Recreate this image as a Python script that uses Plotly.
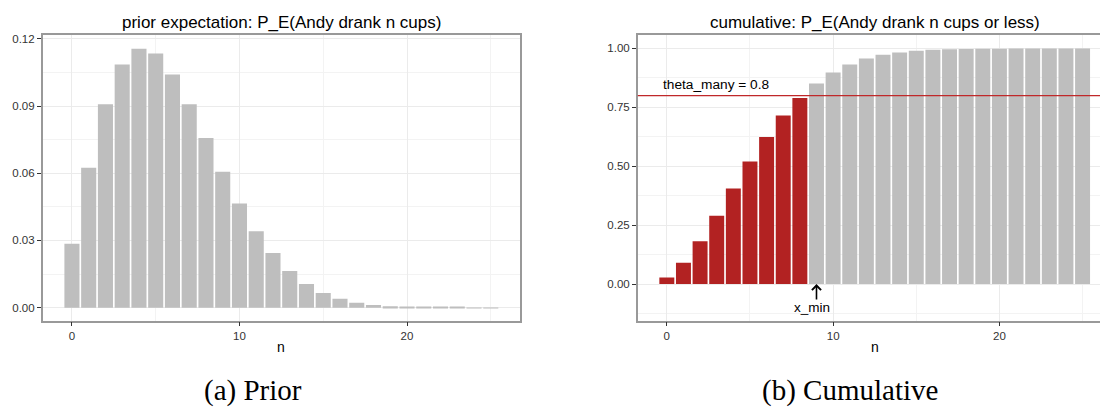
import plotly.graph_objects as go

# ---- data ----
n_values = list(range(26))
prior = [0.0285, 0.0624, 0.0908, 0.1085, 0.1156, 0.1134, 0.1041, 0.0908, 0.0757,
         0.0607, 0.0465, 0.0341, 0.0244, 0.0164, 0.0106, 0.0066, 0.0040, 0.0022,
         0.0012, 0.0006, 0.0003, 0.0002, 0.0001, 0.0001, 0.00005, 0.00003]
cumulative = [0.028, 0.091, 0.182, 0.290, 0.406, 0.520, 0.624, 0.715, 0.790, 0.851,
              0.898, 0.932, 0.957, 0.973, 0.983, 0.990, 0.994, 0.996, 0.998, 0.999,
              0.999, 1.0, 1.0, 1.0, 1.0, 1.0]
theta_many = 0.8
x_min = 9
left_title = "prior expectation: P_E(Andy drank n cups)"
right_title = "cumulative: P_E(Andy drank n cups or less)"
captions = ["(a) Prior", "(b) Cumulative"]
left_yticks = [0.00, 0.03, 0.06, 0.09, 0.12]
right_yticks = [0.00, 0.25, 0.50, 0.75, 1.00]
x_ticks = [0, 10, 20]

GREY = "#bebebe"
RED = "#b22222"
SANS = "Liberation Sans, Arial, sans-serif"
SERIF = "Liberation Serif, Times New Roman, serif"
W, H = 1100, 410
TICKFONT = dict(family=SANS, size=11.5, color="#333333")

fig = go.Figure()
fig.add_trace(go.Bar(x=n_values, y=prior, width=0.9, marker=dict(color=GREY, line=dict(width=0)),
                     xaxis="x", yaxis="y", showlegend=False, hoverinfo="x+y"))
cum_colors = [RED if n < x_min else GREY for n in n_values]
fig.add_trace(go.Bar(x=n_values, y=cumulative, width=0.9, marker=dict(color=cum_colors, line=dict(width=0)),
                     xaxis="x2", yaxis="y2", showlegend=False, hoverinfo="x+y"))

ydom = [1 - 320 / H, 1 - 32.7 / H]
common_x = dict(tickmode="array", tickvals=x_ticks, ticks="outside", ticklen=4, tickwidth=1,
                tickcolor="#333333", showgrid=True, gridcolor="#ebebeb", gridwidth=1.1,
                minor=dict(dtick=5, tick0=0, showgrid=True, gridcolor="#f3f3f3", gridwidth=0.6, ticks=""),
                zeroline=False, showline=True, linecolor="#999999", linewidth=1.5, mirror=True,
                tickfont=TICKFONT, fixedrange=True)
common_y = dict(ticks="outside", ticklen=4, tickwidth=1, tickcolor="#333333", showgrid=True,
                gridcolor="#ebebeb", gridwidth=1.1, zeroline=False, showline=True,
                linecolor="#999999", linewidth=1.5, tickformat=".2f",
                tickfont=TICKFONT, fixedrange=True)

fig.update_layout(
    width=W, height=H, margin=dict(l=0, r=0, t=0, b=0),
    paper_bgcolor="white", plot_bgcolor="white", barmode="overlay",
    font=dict(family=SANS, color="black"),
    xaxis=dict(common_x, domain=[42.7 / W, 520 / W], range=[-1.745, 26.745], anchor="y"),
    yaxis=dict(common_y, domain=ydom, range=[-0.0058, 0.1215], tickmode="array",
               tickvals=left_yticks, mirror=True, anchor="x",
               minor=dict(dtick=0.015, tick0=0, showgrid=True, gridcolor="#f3f3f3", gridwidth=0.6, ticks="")),
    xaxis2=dict(common_x, domain=[637.8 / W, 1.0], range=[-1.745, -1.745 + (W - 637.8) / 16.63], anchor="y2"),
    yaxis2=dict(common_y, domain=ydom, range=[-0.155, 1.055], tickmode="array",
                tickvals=right_yticks, mirror=False, anchor="x2",
                minor=dict(dtick=0.125, tick0=0, showgrid=True, gridcolor="#f3f3f3", gridwidth=0.6, ticks="")),
)

# threshold line
fig.add_shape(type="line", xref="x2 domain", yref="y2", x0=0, x1=1, y0=theta_many, y1=theta_many,
              line=dict(color="#c0282a", width=1.2), layer="above")

annots = []
# panel titles
annots.append(dict(text=left_title, xref="x", yref="paper", x=12.5, y=1 - 19.3 / H, showarrow=False,
                   xanchor="center", yanchor="middle", font=dict(family=SANS, size=17, color="black")))
annots.append(dict(text=right_title, xref="x2", yref="paper", x=12.5, y=1 - 19.3 / H, showarrow=False,
                   xanchor="center", yanchor="middle", font=dict(family=SANS, size=17, color="black")))
# axis titles
for xr in ["x", "x2"]:
    annots.append(dict(text="n", xref=xr, yref="paper", x=12.5, y=1 - 347 / H, showarrow=False,
                       xanchor="center", yanchor="middle", font=dict(family=SANS, size=14, color="black")))
# theta label
annots.append(dict(text=f"theta_many = {theta_many}", xref="x2", yref="y2", x=3, y=0.845,
                   showarrow=False, xanchor="center", yanchor="middle",
                   font=dict(family=SANS, size=13.7, color="black")))
# x_min arrow + label
annots.append(dict(text="", xref="x2", yref="y2", x=x_min, y=0.0, ax=x_min, ay=-0.072,
                   axref="x2", ayref="y2", showarrow=True, arrowhead=4, arrowsize=1.1,
                   arrowwidth=1.6, arrowcolor="black", standoff=0))
annots.append(dict(text="x_min", xref="x2", yref="y2", x=x_min - 0.27, y=-0.1, showarrow=False,
                   xanchor="center", yanchor="middle", font=dict(family=SANS, size=13.5, color="black")))
# captions
for cap, cx in zip(captions, [253, 849.5]):
    annots.append(dict(text=cap, xref="paper", yref="paper", x=cx / W, y=1 - 390 / H,
                       showarrow=False, xanchor="center", yanchor="middle",
                       font=dict(family=SERIF, size=29, color="black")))
fig.update_layout(annotations=annots)

fig.write_html("out.html", config={"displayModeBar": False})
